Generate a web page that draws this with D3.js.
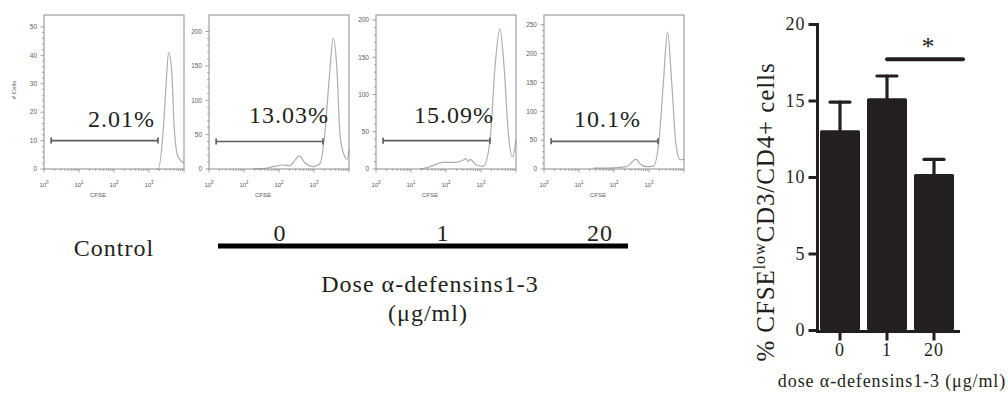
<!DOCTYPE html>
<html>
<head>
<meta charset="utf-8">
<script src="https://cdn.jsdelivr.net/npm/d3@7"></script>
<style>
  body { margin: 0; background: #fff; }
  text { font-family: "Liberation Serif", "Times New Roman", serif; fill: #231f20; }
  .small text, text.small { font-family: "Liberation Sans", Arial, sans-serif; fill: #5a5a5a; }
</style>
</head>
<body>
<div id="chart"></div>
<script>
// flow histograms, [CFSE intensity, # cells]
const histControl = [[1585,0],[1820,0],[2512,12.6],[3090,30],[3630,41],[4365,36],[5370,12.6],[6760,4.3],[10000,2]];
const histDose0 = [[18,0],[40,1],[69,3.4],[132,5.8],[204,5],[288,13],[380,19],[550,9],[955,3.4],[1480,8],[2040,52],[2750,134],[3550,190],[4470,149],[5500,52],[6920,23],[8900,14],[10000,28]];
const histDose1 = [[18,0],[35,3],[60,7.6],[83,9],[204,9],[309,12],[372,14],[437,10],[490,13],[759,5],[1175,3.6],[1820,39],[2512,137],[3467,188],[4571,137],[6026,48],[7943,16.5],[10000,39]];
const histDose20 = [[26,1.5],[95,2],[229,4],[316,11],[427,17],[550,9],[851,4],[1318,5],[1862,39],[2570,149],[3388,238],[4467,149],[5888,43],[7762,16],[10000,17]];
const histograms = [histControl, histDose0, histDose1, histDose20];

const histYMax = [54.2, 224, 206.7, 267];
const histYTickMax = [50, 200, 200, 250];
const histYStep = [10, 50, 50, 50];
const gateRange = [1.6, 1800];
const gateLevel = [10, 40, 38, 48];
const gatePercent = ["2.01%", "13.03%", "15.09%", "10.1%"];
const decadeLabels = [0, 1, 2, 3];

// bar chart
const doses = ["0", "1", "20"];
const means = [13.05, 15.15, 10.2];
const sems = [1.85, 1.45, 0.95];
const barTicks = [0, 5, 10, 15, 20];
const sigLevel = 17.7;

const width = 1008, height = 398;

const svg = d3.select("#chart")
  .append("svg")
  .attr("width", width)
  .attr("height", height);

// ---- histogram panels ----
const panelLeft = [44, 209, 376, 544],
      panelTop = 15, panelW = 140, panelH = 154;
const labelX = [77.5, 80, 78, 63.5],
      labelY = [112, 108, 108, 112];

histograms.forEach((pts, i) => {
  const g = svg.append("g")
    .attr("transform", `translate(${panelLeft[i]},${panelTop})`);

  const x = d3.scaleLog().domain([1, 1e4]).range([0, panelW]);
  const y = d3.scaleLinear().domain([0, histYMax[i]]).range([panelH, 0]);

  // x ticks (log, minor + decades)
  const xt = g.append("g").attr("class", "small");
  xt.selectAll("line")
    .data(x.ticks())
    .join("line")
      .attr("x1", d => x(d)).attr("x2", d => x(d))
      .attr("y1", panelH)
      .attr("y2", d => panelH + (Number.isInteger(Math.log10(d)) ? 3.5 : 1.8))
      .attr("stroke", "#888").attr("stroke-width", 0.8);
  const xl = xt.selectAll("text")
    .data(decadeLabels)
    .join("text")
      .attr("x", d => x(Math.pow(10, d)))
      .attr("y", panelH + 18)
      .attr("text-anchor", "middle")
      .style("font-size", "6px");
  xl.append("tspan").text("10");
  xl.append("tspan").attr("dy", -3).style("font-size", "4.5px").text(d => d);

  xt.append("text")
    .attr("x", 54).attr("y", panelH + 28)
    .attr("text-anchor", "middle")
    .style("font-size", "6px")
    .text("CFSE");

  // y ticks
  const minor = d3.range(0, histYTickMax[i] + 0.001, histYStep[i] / 5);
  xt.append("g").selectAll("line")
    .data(minor)
    .join("line")
      .attr("x1", 0)
      .attr("x2", (d, k) => k % 5 === 0 ? -3.5 : -1.8)
      .attr("y1", d => y(d)).attr("y2", d => y(d))
      .attr("stroke", "#888").attr("stroke-width", 0.8);
  xt.append("g").selectAll("text")
    .data(d3.range(0, histYTickMax[i] + 1, histYStep[i]))
    .join("text")
      .attr("x", -7)
      .attr("y", d => y(d))
      .attr("dy", "0.35em")
      .attr("text-anchor", "end")
      .style("font-size", "6.5px")
      .text(d => d);

  // curve
  g.append("path")
    .datum(pts)
    .attr("fill", "none")
    .attr("stroke", "#adadad")
    .attr("stroke-width", 1.2)
    .attr("d", d3.line()
      .x(d => x(d[0]))
      .y(d => y(d[1]))
      .curve(d3.curveMonotoneX));

  // frame
  g.append("rect")
    .attr("width", panelW).attr("height", panelH)
    .attr("fill", "none")
    .attr("stroke", "#8c8c8c");

  // gate
  const gy = y(gateLevel[i]);
  const gate = g.append("g").attr("stroke", "#5f5f5f").attr("stroke-width", 1.7);
  gate.append("line")
    .attr("x1", x(gateRange[0])).attr("x2", x(gateRange[1]))
    .attr("y1", gy).attr("y2", gy);
  gate.selectAll(".cap")
    .data(gateRange)
    .join("line")
      .attr("x1", d => x(d)).attr("x2", d => x(d))
      .attr("y1", gy - 3).attr("y2", gy + 3);

  g.append("text")
    .attr("x", labelX[i]).attr("y", labelY[i])
    .attr("text-anchor", "middle")
    .style("font-size", "24px")
    .style("letter-spacing", "1px")
    .text(gatePercent[i]);
});

svg.append("text")
  .attr("class", "small")
  .attr("transform", "translate(16,90) rotate(-90)")
  .attr("text-anchor", "middle")
  .style("font-size", "6px")
  .text("# Cells");

// dose legend below histograms
svg.append("text")
  .attr("x", 114).attr("y", 256)
  .attr("text-anchor", "middle")
  .style("font-size", "24px").style("letter-spacing", "1px")
  .text("Control");

svg.append("line")
  .attr("x1", 218).attr("x2", 628)
  .attr("y1", 246).attr("y2", 246)
  .attr("stroke", "#000").attr("stroke-width", 5);

svg.append("g").selectAll("text")
  .data(doses)
  .join("text")
    .attr("x", (d, i) => [280, 443, 600][i])
    .attr("y", 241)
    .attr("text-anchor", "middle")
    .style("font-size", "24px").style("letter-spacing", "1px")
    .text(d => d);

svg.append("text")
  .attr("x", 430).attr("y", 292)
  .attr("text-anchor", "middle")
  .style("font-size", "24px").style("letter-spacing", "1px")
  .text("Dose α-defensins1-3");
svg.append("text")
  .attr("x", 428).attr("y", 321)
  .attr("text-anchor", "middle")
  .style("font-size", "24px").style("letter-spacing", "1px")
  .text("(μg/ml)");

// ---- bar chart ----
const yb = d3.scaleLinear().domain([0, 20]).range([330, 24]);
const xb = d3.scaleBand().domain(doses).range([817, 957])
  .paddingInner(0.149).paddingOuter(0.064);
const ink = "#231f20";

svg.append("g").selectAll("rect")
  .data(doses)
  .join("rect")
    .attr("x", d => xb(d))
    .attr("y", (d, i) => yb(means[i]))
    .attr("width", xb.bandwidth())
    .attr("height", (d, i) => yb(0) - yb(means[i]))
    .attr("rx", 1.5)
    .attr("fill", ink);

const err = svg.append("g")
  .attr("stroke", ink).attr("stroke-width", 3.2).attr("stroke-linecap", "round");
err.selectAll(".v")
  .data(doses)
  .join("line")
    .attr("x1", d => xb(d) + xb.bandwidth() / 2)
    .attr("x2", d => xb(d) + xb.bandwidth() / 2)
    .attr("y1", (d, i) => yb(means[i]))
    .attr("y2", (d, i) => yb(means[i] + sems[i]));
err.selectAll(".c")
  .data(doses)
  .join("line")
    .attr("x1", d => xb(d) + xb.bandwidth() / 2 - 10)
    .attr("x2", d => xb(d) + xb.bandwidth() / 2 + 10)
    .attr("y1", (d, i) => yb(means[i] + sems[i]))
    .attr("y2", (d, i) => yb(means[i] + sems[i]));

const yAxis = svg.append("g")
  .attr("transform", "translate(817.5,0)")
  .call(d3.axisLeft(yb).tickValues(barTicks).tickSize(9).tickSizeOuter(0).tickPadding(3));
const xAxis = svg.append("g")
  .attr("transform", "translate(0,331.5)")
  .call(d3.axisBottom(xb).tickSize(9).tickSizeOuter(0).tickPadding(3));

[yAxis, xAxis].forEach(a => {
  a.select(".domain").remove();
  a.selectAll("line").attr("stroke", ink).attr("stroke-width", 3);
  a.selectAll("text")
    .style("font-family", "'Liberation Serif', 'Times New Roman', serif")
    .style("font-size", "18px")
    .style("letter-spacing", "1px")
    .attr("fill", ink);
});
svg.append("line")
  .attr("x1", 817.5).attr("x2", 817.5)
  .attr("y1", yb(0) + 3).attr("y2", yb(20) - 1)
  .attr("stroke", ink).attr("stroke-width", 3);
svg.append("line")
  .attr("x1", 816).attr("x2", 960)
  .attr("y1", 331.5).attr("y2", 331.5)
  .attr("stroke", ink).attr("stroke-width", 3);

// significance
svg.append("line")
  .attr("x1", xb("1") + xb.bandwidth() / 2)
  .attr("x2", xb("20") + xb.bandwidth() + 9)
  .attr("y1", yb(sigLevel)).attr("y2", yb(sigLevel))
  .attr("stroke", ink).attr("stroke-width", 4).attr("stroke-linecap", "round");
svg.append("text")
  .attr("x", 928).attr("y", 55)
  .attr("text-anchor", "middle")
  .style("font-size", "26px")
  .text("*");

const yl = svg.append("text")
  .attr("transform", "translate(774,212) rotate(-90)")
  .attr("text-anchor", "middle")
  .style("font-size", "25px")
  .style("letter-spacing", "0.9px");
yl.append("tspan").text("% CFSE");
yl.append("tspan").attr("dy", -9).style("font-size", "16px").text("low");
yl.append("tspan").attr("dy", 9).text("CD3/CD4+ cells");

svg.append("text")
  .attr("x", 892).attr("y", 387)
  .attr("text-anchor", "middle")
  .style("font-size", "18px")
  .style("letter-spacing", "0.9px")
  .text("dose α-defensins1-3 (μg/ml)");
</script>
</body>
</html>
